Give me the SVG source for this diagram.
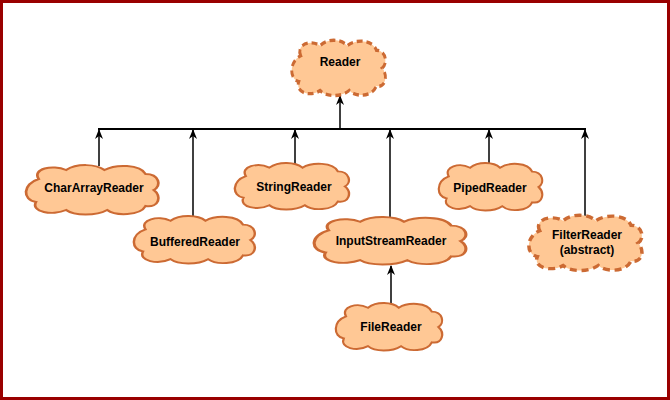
<svg xmlns="http://www.w3.org/2000/svg" xmlns:xlink="http://www.w3.org/1999/xlink" width="670" height="400" viewBox="0 0 670 400">
<style>
.cloud{fill:#FFC895;stroke:#CC6A33;stroke-width:2;vector-effect:non-scaling-stroke}
.dash{stroke-width:3;stroke-dasharray:6 4}
.lbl{font-family:"Liberation Sans",Arial,sans-serif;font-size:12px;font-weight:bold;fill:#000;text-anchor:middle}
.conn{stroke:#000;stroke-width:2;fill:none}
.arr{stroke:#000;stroke-width:1.5;fill:none;marker-end:url(#ah)}
</style>
<defs>
<marker id="ah" viewBox="0 0 10 10" refX="9" refY="5" markerWidth="10" markerHeight="8" markerUnits="userSpaceOnUse" orient="auto" preserveAspectRatio="none">
<path d="M0,0 L10,5 L0,10 L3,5 Z" fill="#000"/>
</marker>
<path id="cl" d="M10,15 C5,5 20,0 30,6 C38,-1 52,0 58,6 C66,0 84,0 88,10 C98,10 100,22 94,26 C100,32 98,44 88,42 C84,52 66,52 60,46 C52,52 36,52 30,46 C20,52 4,48 8,38 C-2,36 -2,20 10,15 Z"/>
</defs>
<rect x="1.5" y="1.5" width="667" height="397" fill="#fff" stroke="#990000" stroke-width="3"/>
<g id="connectors">
<line class="conn" x1="98" y1="129" x2="586" y2="129"/>
<line class="arr" x1="340" y1="129" x2="340" y2="96"/>
<line class="arr" x1="99" y1="166" x2="99" y2="130"/>
<line class="arr" x1="193" y1="217" x2="193" y2="130"/>
<line class="arr" x1="295" y1="165" x2="295" y2="130"/>
<line class="arr" x1="390" y1="218" x2="390" y2="130"/>
<line class="arr" x1="489" y1="165" x2="489" y2="130"/>
<line class="arr" x1="585" y1="216" x2="585" y2="130"/>
<line class="arr" x1="391" y1="303" x2="391" y2="266"/>
</g>
<g id="Reader">
<use xlink:href="#cl" class="cloud dash" transform="translate(291,39) scale(0.97,1.12)"/>
<text class="lbl" x="340" y="66">Reader</text>
</g>
<g id="CharArrayReader">
<use xlink:href="#cl" class="cloud" transform="translate(25,164) scale(1.37,1.0)"/>
<text class="lbl" x="94" y="192">CharArrayReader</text>
</g>
<g id="BufferedReader">
<use xlink:href="#cl" class="cloud" transform="translate(133,215) scale(1.25,0.96)"/>
<text class="lbl" x="195" y="246">BufferedReader</text>
</g>
<g id="StringReader">
<use xlink:href="#cl" class="cloud" transform="translate(234,162) scale(1.18,0.94)"/>
<text class="lbl" x="294" y="191">StringReader</text>
</g>
<g id="InputStreamReader">
<use xlink:href="#cl" class="cloud" transform="translate(313,216) scale(1.57,0.96)"/>
<text class="lbl" x="391" y="245">InputStreamReader</text>
</g>
<g id="PipedReader">
<use xlink:href="#cl" class="cloud" transform="translate(438,162) scale(1.07,0.96)"/>
<text class="lbl" x="490" y="192">PipedReader</text>
</g>
<g id="FilterReader">
<use xlink:href="#cl" class="cloud dash" transform="translate(528,214) scale(1.17,1.12)"/>
<text class="lbl" x="587" y="239">FilterReader</text>
<text class="lbl" x="587" y="254">(abstract)</text>
</g>
<g id="FileReader">
<use xlink:href="#cl" class="cloud" transform="translate(335,302) scale(1.1,0.96)"/>
<text class="lbl" x="391" y="331">FileReader</text>
</g>
</svg>
